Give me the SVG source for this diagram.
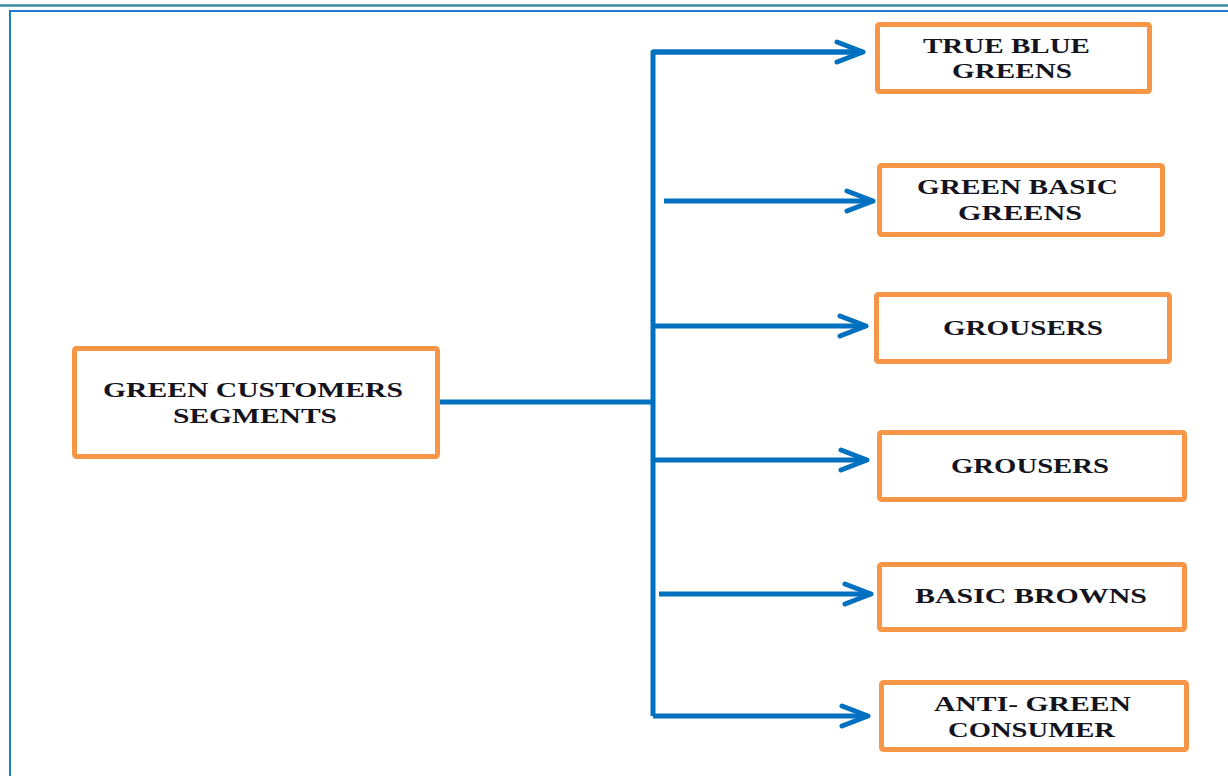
<svg xmlns="http://www.w3.org/2000/svg" width="1228" height="776" viewBox="0 0 1228 776">
<style>
.box{fill:#fff;stroke:#f79646;stroke-width:5;}
.lbl{font-family:"Liberation Serif","Times New Roman",serif;font-weight:bold;font-size:22px;fill:#14141e;}
.con{fill:none;stroke:#0070c0;stroke-width:5;stroke-linejoin:round;}
</style>
<defs>
<marker id="arr" markerUnits="userSpaceOnUse" viewBox="-32 -15 36 30" markerWidth="36" markerHeight="30" refX="0" refY="0" orient="auto">
<path d="M -26 -10 L 0 0 L -26 10" fill="none" stroke="#0070c0" stroke-width="5" stroke-linecap="round" stroke-linejoin="round"/>
</marker>
</defs>
<rect width="1228" height="776" fill="#fff"/>
<line x1="0" y1="5.5" x2="1228" y2="5.5" stroke="#3b8ba0" stroke-width="2.5"/>
<path d="M 10 776 V 11 H 1228" fill="none" stroke="#1f7bd0" stroke-width="2"/>
<g id="connectors">
<path class="con" d="M 438 402 H 653"/>
<path class="con" d="M 862 52 H 653 V 716"/>
<path class="con" d="M 653 52 H 863" marker-end="url(#arr)"/>
<path class="con" d="M 664 201 H 873" marker-end="url(#arr)"/>
<path class="con" d="M 653 326 H 866" marker-end="url(#arr)"/>
<path class="con" d="M 653 460 H 867" marker-end="url(#arr)"/>
<path class="con" d="M 659 594 H 871" marker-end="url(#arr)"/>
<path class="con" d="M 653 716 H 868" marker-end="url(#arr)"/>
</g>
<g id="root">
<rect class="box" x="74.5" y="348.5" width="363" height="108" rx="2"/>
<text class="lbl" x="103" y="397" textLength="300" lengthAdjust="spacingAndGlyphs">GREEN CUSTOMERS</text>
<text class="lbl" x="173" y="423" textLength="164" lengthAdjust="spacingAndGlyphs">SEGMENTS</text>
</g>
<g id="n1">
<rect class="box" x="877.5" y="24.5" width="272" height="67" rx="2"/>
<text class="lbl" x="923" y="53" textLength="167" lengthAdjust="spacingAndGlyphs">TRUE BLUE</text>
<text class="lbl" x="952" y="78" textLength="120" lengthAdjust="spacingAndGlyphs">GREENS</text>
</g>
<g id="n2">
<rect class="box" x="879.5" y="165.5" width="283" height="69" rx="2"/>
<text class="lbl" x="917" y="194" textLength="201" lengthAdjust="spacingAndGlyphs">GREEN BASIC</text>
<text class="lbl" x="958" y="220" textLength="124" lengthAdjust="spacingAndGlyphs">GREENS</text>
</g>
<g id="n3">
<rect class="box" x="876.5" y="294.5" width="293" height="67" rx="2"/>
<text class="lbl" x="943" y="335" textLength="160" lengthAdjust="spacingAndGlyphs">GROUSERS</text>
</g>
<g id="n4">
<rect class="box" x="879.5" y="432.5" width="305" height="67" rx="2"/>
<text class="lbl" x="951" y="473" textLength="158" lengthAdjust="spacingAndGlyphs">GROUSERS</text>
</g>
<g id="n5">
<rect class="box" x="879.5" y="564.5" width="305" height="65" rx="2"/>
<text class="lbl" x="915" y="603" textLength="232" lengthAdjust="spacingAndGlyphs">BASIC BROWNS</text>
</g>
<g id="n6">
<rect class="box" x="881.5" y="682.5" width="305" height="67" rx="2"/>
<text class="lbl" x="934" y="711" textLength="197" lengthAdjust="spacingAndGlyphs">ANTI- GREEN</text>
<text class="lbl" x="948" y="737" textLength="167" lengthAdjust="spacingAndGlyphs">CONSUMER</text>
</g>
</svg>
